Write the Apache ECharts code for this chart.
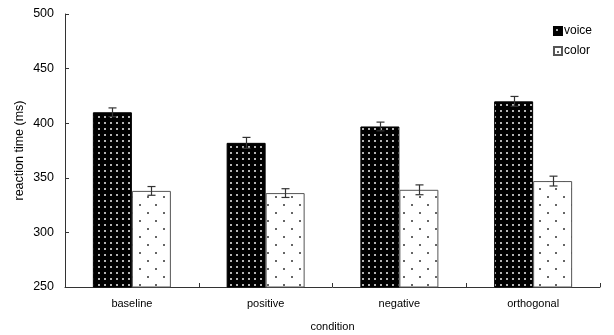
<!DOCTYPE html>
<html>
<head>
<meta charset="utf-8">
<script src="https://cdn.jsdelivr.net/npm/echarts@6/dist/echarts.min.js"></script>
<style>
  html, body { margin: 0; padding: 0; background: #fff; }
  #chart { width: 614px; height: 335px; }
</style>
</head>
<body>
<div id="chart"></div>
<script>
// data
const conditions = ['baseline', 'positive', 'negative', 'orthogonal'];
const voiceRT = [410, 382, 397, 420];
const colorRT = [338, 336, 339, 347];
const voiceErr = [4, 5, 4, 4.5];
const colorErr = [4, 4, 4.5, 4.5];
const yTicks = [250, 300, 350, 400, 450, 500];

const BAR_W = 39;

// dotted fills
function makePattern(w, h, bg, dot, dots, size) {
    let c = document.createElement('canvas');
    c.width = w; c.height = h;
    let ctx = c.getContext('2d');
    ctx.fillStyle = bg;
    ctx.fillRect(0, 0, w, h);
    ctx.fillStyle = dot;
    dots.forEach((d) => ctx.fillRect(d[0], d[1], size, size));
    return c;
}
const voiceFill = { image: makePattern(6, 6, '#000', '#b4b4b4', [[2, 2]], 2), repeat: 'repeat' };
const colorFill = { image: makePattern(16, 16, '#fff', '#666', [[3, 4], [11, 12]], 2), repeat: 'repeat' };

function errData(vals, errs) {
    return vals.map((v, i) => [i, v - errs[i], v + errs[i]]);
}

function errorBars(offset) {
    return function (params, api) {
        let lo = api.coord([api.value(0), api.value(1)]);
        let hi = api.coord([api.value(0), api.value(2)]);
        let x = Math.round(lo[0] + offset) + 0.5;
        let cap = 4;
        let style = { stroke: '#333', lineWidth: 1.2 };
        return {
            type: 'group',
            children: [
                { type: 'line', shape: { x1: x, y1: hi[1], x2: x, y2: lo[1] }, style: style },
                { type: 'line', shape: { x1: x - cap, y1: hi[1], x2: x + cap, y2: hi[1] }, style: style },
                { type: 'line', shape: { x1: x - cap, y1: lo[1], x2: x + cap, y2: lo[1] }, style: style }
            ]
        };
    };
}

const font = 'Liberation Sans, Arial, sans-serif';
let chart = echarts.init(document.getElementById('chart'), null, { renderer: 'canvas' });

let option = {
    animation: false,
    backgroundColor: '#fff',
    textStyle: { fontFamily: font },
    grid: { left: 65, right: 14, top: 14, bottom: 48, containLabel: false, outerBoundsMode: 'none' },
    legend: {
        orient: 'vertical',
        right: 17,
        top: 19,
        itemWidth: 8,
        itemHeight: 8,
        itemGap: 6,
        icon: 'rect',
        textStyle: { fontFamily: font, fontSize: 12, color: '#000', lineHeight: 14, padding: [0, 0, 0, -3] },
        data: ['voice', 'color']
    },
    xAxis: {
        type: 'category',
        data: conditions,
        name: 'condition',
        nameLocation: 'middle',
        nameGap: 34,
        nameTextStyle: { fontFamily: font, fontSize: 11, color: '#000' },
        axisLine: { lineStyle: { color: '#333', width: 1 } },
        axisTick: { show: true, inside: true, length: 4, lineStyle: { color: '#333' } },
        axisLabel: { fontFamily: font, fontSize: 11, color: '#000', margin: 11 },
        splitLine: { show: false }
    },
    yAxis: {
        type: 'value',
        min: yTicks[0],
        max: yTicks[yTicks.length - 1],
        interval: 50,
        name: 'reaction time (ms)',
        nameLocation: 'middle',
        nameGap: 39,
        nameMoveOverlap: false,
        nameTextStyle: { fontFamily: font, fontSize: 12.5, color: '#000' },
        axisLine: { show: true, lineStyle: { color: '#333', width: 1 } },
        axisTick: { show: true, inside: true, length: 4, lineStyle: { color: '#333' } },
        axisLabel: { fontFamily: font, fontSize: 12.5, color: '#000', margin: 11 },
        splitLine: { show: false }
    },
    series: [
        {
            name: 'voice',
            type: 'bar',
            data: voiceRT,
            barWidth: BAR_W,
            barGap: '0%',
            itemStyle: { color: voiceFill, borderColor: '#000', borderWidth: 1 }
        },
        {
            name: 'color',
            type: 'bar',
            data: colorRT,
            barWidth: BAR_W,
            barGap: '0%',
            itemStyle: { color: colorFill, borderColor: '#555', borderWidth: 1 }
        },
        {
            type: 'custom',
            renderItem: errorBars(-BAR_W / 2),
            data: errData(voiceRT, voiceErr),
            z: 10,
            silent: true
        },
        {
            type: 'custom',
            renderItem: errorBars(BAR_W / 2),
            data: errData(colorRT, colorErr),
            z: 10,
            silent: true
        }
    ]
};

chart.setOption(option);
</script>
</body>
</html>
